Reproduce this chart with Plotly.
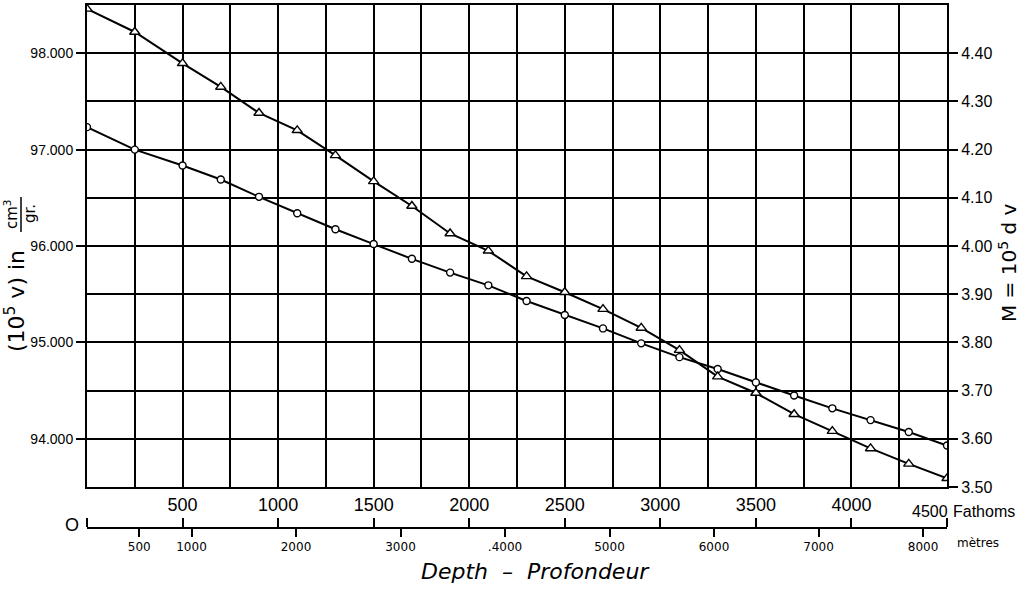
import plotly.graph_objects as go

# ---------------- data ----------------
depth_fathoms = [0, 250, 500, 700, 900, 1100, 1300, 1500, 1700, 1900, 2100, 2300,
                 2500, 2700, 2900, 3100, 3300, 3500, 3700, 3900, 4100, 4300, 4500]
specific_volume = [97233, 97000, 96835, 96690, 96510, 96340, 96174, 96020, 95867, 95724,
                   95592, 95429, 95285, 95145, 94990, 94847, 94724, 94585, 94449, 94316,
                   94194, 94071, 93930]          # 10^5 v  (circles, left axis)
M_values = [4.492, 4.444, 4.379, 4.330, 4.276, 4.240, 4.188, 4.134, 4.083, 4.026,
            3.990, 3.937, 3.904, 3.869, 3.830, 3.784, 3.729, 3.695, 3.651, 3.616,
            3.580, 3.548, 3.518]             # M = 10^5 dv (triangles, right axis)

left_ticks = [94000, 95000, 96000, 97000, 98000]
left_ticktext = ["94.000", "95.000", "96.000", "97.000", "98.000"]
right_ticks = [3.50, 3.60, 3.70, 3.80, 3.90, 4.00, 4.10, 4.20, 4.30, 4.40]
right_ticktext = ["3.50", "3.60", "3.70", "3.80", "3.90", "4.00", "4.10", "4.20", "4.30", "4.40"]
fathom_ticks = [0, 500, 1000, 1500, 2000, 2500, 3000, 3500, 4000, 4500]
fathom_ticktext = ["", "500", "1000", "1500", "2000", "2500", "3000", "3500", "4000", ""]
last_fathom_label = "4500"
metre_ticks = [500, 1000, 2000, 3000, 4000, 5000, 6000, 7000, 8000]
metre_ticktext = ["500", "1000", "2000", "3000", ".4000", "5000", "6000", "7000", "8000"]
FATHOM_TO_M = 1.8288

# ---------------- geometry helpers ----------------
W, H = 1031, 589
ML, MR, MT, MB = 87, 84, 5, 9
PW, PH = W - ML - MR, H - MT - MB


def px(x):
    return (x - ML) / PW


def py(y):
    return (H - MB - y) / PH


BLACK = "black"
FONT = "Liberation Sans"

fig = go.Figure()

fig.add_trace(go.Scatter(
    x=depth_fathoms, y=specific_volume, mode="lines+markers",
    line=dict(color=BLACK, width=2),
    marker=dict(symbol="circle", size=7, color="white", line=dict(color=BLACK, width=1.4)),
    xaxis="x", yaxis="y", showlegend=False, name="10⁵ v"))

fig.add_trace(go.Scatter(
    x=depth_fathoms, y=M_values, mode="lines+markers",
    line=dict(color=BLACK, width=2),
    marker=dict(symbol="triangle-up", size=9, color="white", line=dict(color=BLACK, width=1.4)),
    xaxis="x", yaxis="y2", showlegend=False, name="M = 10⁵ dv"))

# dummy traces to activate the secondary depth scales
fig.add_trace(go.Scatter(x=[None], y=[None], xaxis="x2", yaxis="y", showlegend=False, hoverinfo="skip"))
fig.add_trace(go.Scatter(x=[None], y=[None], xaxis="x3", yaxis="y", showlegend=False, hoverinfo="skip"))

dom_bottom = py(487)
scale_pos = py(528)

fig.update_layout(
    width=W, height=H,
    margin=dict(l=ML, r=MR, t=MT, b=MB, autoexpand=False),
    paper_bgcolor="white", plot_bgcolor="white",
    font=dict(family=FONT, color=BLACK),
    xaxis=dict(range=[0, 4500], dtick=250, tick0=0, showgrid=True, gridcolor=BLACK, gridwidth=2,
               showticklabels=False, ticks="", showline=True, linecolor=BLACK, linewidth=2,
               mirror=True, zeroline=False, anchor="y", automargin=False),
    xaxis2=dict(overlaying="x", anchor="free", position=scale_pos, side="top",
                range=[0, 4500], tickmode="array", tickvals=fathom_ticks, ticktext=fathom_ticktext,
                ticks="outside", ticklen=9, tickwidth=2, tickcolor=BLACK,
                showline=True, linecolor=BLACK, linewidth=2, showgrid=False, zeroline=False,
                automargin=False,
                tickfont=dict(family=FONT, size=18, color=BLACK)),
    xaxis3=dict(overlaying="x", anchor="free", position=scale_pos, side="bottom",
                range=[0, 4500 * FATHOM_TO_M], tickmode="array", tickvals=metre_ticks,
                ticktext=metre_ticktext, ticks="outside", ticklen=8, tickwidth=2, tickcolor=BLACK,
                showline=False, showgrid=False, zeroline=False, automargin=False,
                tickfont=dict(family="DejaVu Sans", size=12, color=BLACK)),
    yaxis=dict(domain=[dom_bottom, 1], range=[93500, 98500], tickmode="array",
               tickvals=left_ticks, ticktext=left_ticktext, ticks="outside", ticklen=9,
               tickwidth=2, tickcolor=BLACK, showgrid=False, zeroline=False,
               showline=True, linecolor=BLACK, linewidth=2, mirror=True, automargin=False,
               tickfont=dict(family=FONT, size=14, color=BLACK)),
    yaxis2=dict(overlaying="y", side="right", range=[3.5, 4.5], tickmode="array",
                tickvals=right_ticks, ticktext=right_ticktext, ticks="outside", ticklen=9,
                tickwidth=2, tickcolor=BLACK, showgrid=True, gridcolor=BLACK, gridwidth=2,
                zeroline=False, showline=True, linecolor=BLACK, linewidth=2, automargin=False,
                tickfont=dict(family=FONT, size=16, color=BLACK)),
)

ann = []
# left axis title
ann.append(dict(xref="paper", yref="paper", x=px(15), y=py(301), text="(10<sup>5</sup> v) in",
                textangle=-90, showarrow=False, xanchor="center", yanchor="middle",
                font=dict(family="DejaVu Sans", size=22, color=BLACK)))
ann.append(dict(xref="paper", yref="paper", x=px(11), y=py(214), text="cm<sup>3</sup>",
                textangle=-90, showarrow=False, xanchor="center", yanchor="middle",
                font=dict(family="DejaVu Sans", size=15, color=BLACK)))
ann.append(dict(xref="paper", yref="paper", x=px(30), y=py(214), text="gr.",
                textangle=-90, showarrow=False, xanchor="center", yanchor="middle",
                font=dict(family="DejaVu Sans", size=15, color=BLACK)))
# right axis title
ann.append(dict(xref="paper", yref="paper", x=px(1008), y=py(263), text="M = 10<sup>5</sup> d v",
                textangle=-90, showarrow=False, xanchor="center", yanchor="middle",
                font=dict(family="DejaVu Sans", size=20, color=BLACK)))
# depth scale labels
ann.append(dict(xref="paper", yref="paper", x=px(72), y=py(525), text="O",
                showarrow=False, xanchor="center", yanchor="middle",
                font=dict(family=FONT, size=18, color=BLACK)))
ann.append(dict(xref="paper", yref="paper", x=px(950), y=py(511), text=last_fathom_label,
                showarrow=False, xanchor="right", yanchor="middle",
                font=dict(family=FONT, size=16, color=BLACK)))
ann.append(dict(xref="paper", yref="paper", x=px(951), y=py(511), text="Fathoms",
                showarrow=False, xanchor="left", yanchor="middle",
                font=dict(family=FONT, size=16, color=BLACK)))
ann.append(dict(xref="paper", yref="paper", x=px(955), y=py(543), text="mètres",
                showarrow=False, xanchor="left", yanchor="middle",
                font=dict(family="DejaVu Sans", size=12, color=BLACK)))
ann.append(dict(xref="paper", yref="paper", x=px(535), y=py(571),
                text="<i>Depth\u00a0\u00a0\u2013\u00a0\u00a0Profondeur</i>",
                showarrow=False, xanchor="center", yanchor="middle",
                font=dict(family="DejaVu Sans", size=22, color=BLACK)))
fig.update_layout(annotations=ann)

# fraction bar of the left title
fig.add_shape(type="line", xref="paper", yref="paper", x0=px(21), x1=px(21),
              y0=py(197), y1=py(232), line=dict(color=BLACK, width=1.5))

fig.write_html("out.html",
               config={"displayModeBar": False},
               post_script="document.body.style.margin='0px';"
                           "document.body.style.overflow='hidden';")
